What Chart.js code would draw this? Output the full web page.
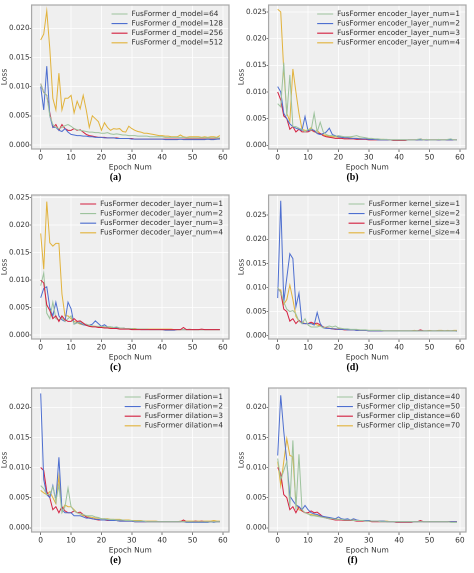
<!DOCTYPE html>
<html><head><meta charset="utf-8">
<script src="https://cdn.jsdelivr.net/npm/chart.js@4.4.0/dist/chart.umd.min.js"></script>
<style>
body{margin:0;background:#fff;width:474px;height:573px;position:relative;overflow:hidden}
.cell{position:absolute;width:237px;height:190px}
.cell canvas{position:absolute;left:0;top:0}
.cap{position:absolute;top:171px;width:237px;left:-3px;text-align:center;font:bold 10px "Liberation Serif",serif;color:#000}
</style></head><body>
<script>
// values in units of 0.001 (Loss ×1e3)
const xTicks=[0,10,20,30,40,50,60];
const colors={green:'#9dc39d',blue:'#4e6fd0',red:'#d42040',gold:'#e2b33c'};
const captions=['(a)','(b)','(c)','(d)','(e)','(f)'];
const yMax=[24,26.3,25.5,29.2,23.2,23.2];
const yTicks=[[0,5,10,15,20],[0,5,10,15,20,25],[0,5,10,15,20,25],[0,5,10,15,20,25],[0,5,10,15,20],[0,5,10,15,20]];

const aLabels=['FusFormer d_model=64','FusFormer d_model=128','FusFormer d_model=256','FusFormer d_model=512'];
const aGreen=[10.5,9,8.5,5,3.5,3,2.8,3,3.3,3.5,3.2,2.8,2.6,2.5,2.4,2.3,2.2,2.2,2.1,2.1,2.0,2.0,2.1,1.9,1.8,1.9,1.8,1.7,1.7,1.6,1.6,1.6,1.5,1.5,1.5,1.5,1.4,1.4,1.4,1.4,1.4,1.3,1.3,1.3,1.3,1.3,1.3,1.3,1.2,1.2,1.2,1.2,1.2,1.2,1.2,1.2,1.2,1.2,1.2,1.2];
const aBlue=[10,6,13.5,5,3,3,2.5,2.3,2.8,2.2,1.8,1.7,1.6,1.6,1.5,1.5,1.4,1.4,1.3,1.3,1.3,1.2,1.2,1.2,1.2,1.1,1.1,1.1,1.1,1.1,1.0,1.0,1.0,1.0,1.0,1.0,1.0,1.0,1.0,1.0,1.0,0.9,0.9,0.9,0.9,0.9,1.0,0.9,0.9,0.9,0.9,0.9,0.9,0.9,0.9,1.0,0.9,0.9,1.0,1.0];
const aRed=[10.5,9,8.5,5.5,3,3.5,2.5,3.5,2.8,2.5,2.5,2.8,2.5,2.6,2.2,1.8,1.6,1.5,1.4,1.3,1.3,1.3,1.2,1.2,1.2,1.2,1.1,1.1,1.1,1.1,1.1,1.0,1.0,1.0,1.0,1.0,1.0,1.0,1.0,1.0,1.0,1.0,1.0,1.0,1.0,1.0,1.0,1.0,1.0,1.0,1.0,1.0,1.0,1.0,1.0,1.0,1.0,1.0,1.0,1.1];
const aGold=[18,19,23,16.5,8,6,12.3,6,8,8,8.5,5.5,7.5,6.2,8.5,6,3,5,4.5,4,2.5,3.8,3,2.5,2.8,2.7,2.8,2.3,2.2,3.2,2.8,2.5,2.3,2.2,2.0,2.0,1.9,1.8,1.7,1.6,1.6,1.5,1.5,1.4,1.4,1.4,1.7,1.4,1.3,1.4,1.4,1.4,1.4,1.3,1.4,1.3,1.4,1.4,1.3,1.6];

const bLabels=['FusFormer encoder_layer_num=1','FusFormer encoder_layer_num=2','FusFormer encoder_layer_num=3','FusFormer encoder_layer_num=4'];
const bGreen=[7.8,7.2,15.5,5.5,13.2,3.5,3.5,3.2,3.0,2.5,3.0,2.8,6.0,2.5,4.3,2.5,2.0,1.8,1.8,1.7,1.8,1.7,1.6,1.6,1.6,1.7,1.8,1.6,1.5,1.4,1.3,1.3,1.2,1.2,1.1,1.1,1.1,1.0,1.0,1.0,1.0,1.0,1.0,1.0,1.0,1.0,1.1,1.2,1.0,1.1,1.0,1.0,1.0,1.1,1.0,1.0,1.1,1.2,1.0,1.0];
const bBlue=[11,10,6,5,4,3.5,3.2,3,2.8,5.4,2.7,3,2.8,2.2,2,2.2,2.5,3.2,2,1.8,1.6,1.5,1.4,1.4,1.3,1.3,1.3,1.2,1.2,1.2,1.1,1.1,1.1,1.0,1.0,1.0,1.0,1.0,1.0,1.0,1.0,1.0,1.0,1.0,1.0,1.0,1.0,1.0,1.0,1.0,1.0,1.0,1.0,1.0,1.0,1.0,1.0,1.0,1.0,1.0];
const bRed=[10,8.5,5.5,5,3,3.5,2.5,3,2.5,2.5,2.5,2.8,2.6,2.3,2.2,1.8,1.6,1.5,1.4,1.3,1.3,1.3,1.2,1.2,1.2,1.2,1.1,1.1,1.1,1.1,1.0,1.0,1.0,1.0,1.0,1.0,1.0,1.0,0.9,0.9,0.9,0.9,0.9,1.0,1.0,1.0,1.0,1.2,1.0,1.0,1.0,1.0,1.0,1.0,1.0,1.0,1.0,1.0,1.0,1.0];
const bGold=[25.5,25,14,6,4.5,14.3,10,6,3,2.8,2.8,3.3,2.5,2.8,2.2,2,1.8,1.7,1.6,1.6,1.5,1.5,1.4,1.4,1.4,1.3,1.3,1.3,1.2,1.2,1.2,1.1,1.1,1.1,1.1,1.1,1.0,1.0,1.0,1.0,1.0,1.0,1.0,1.0,1.0,1.0,1.0,1.0,1.0,1.0,1.0,1.0,1.0,1.0,1.0,1.0,1.0,1.0,1.0,1.0];

const cLabels=['FusFormer decoder_layer_num=1','FusFormer decoder_layer_num=2','FusFormer decoder_layer_num=3','FusFormer decoder_layer_num=4'];
const cRed=[10,9.5,5.5,4.5,3,3.5,2.5,3.5,2.8,2.5,2.5,3,2.5,2.6,2.2,1.8,1.6,1.5,1.5,1.4,1.4,1.3,1.3,1.2,1.2,1.2,1.1,1.1,1.1,1.1,1.0,1.0,1.0,1.0,1.0,1.0,1.0,1.0,1.0,1.0,1.0,1.0,1.0,1.0,1.0,1.0,1.0,1.4,1.0,1.0,1.0,1.0,1.0,1.1,1.0,1.0,1.0,1.0,1.0,1.0];
const cGreen=[9,11.3,4,3,6,3,2.8,3.2,2.5,3,3.5,2,2.2,2.5,2,2,1.8,1.7,1.6,1.6,1.6,1.5,1.5,1.5,1.4,1.5,1.3,1.3,1.2,1.2,1.2,1.1,1.1,1.1,1.1,1.1,1.0,1.0,1.0,1.0,1.0,1.0,1.0,1.0,1.0,1.0,1.0,1.0,1.0,1.1,1.0,1.0,1.0,1.0,1.0,1.0,1.0,1.0,1.0,1.0];
const cBlue=[6.8,8.5,8.8,5,3.5,6,3.5,2.8,2.5,6,4.8,2,2.3,2.2,1.9,1.8,1.8,2,2.6,2.1,1.6,1.9,1.5,1.5,1.4,1.4,1.3,1.3,1.2,1.2,1.1,1.1,1.1,1.0,1.0,1.0,1.0,1.0,1.0,1.0,1.0,0.9,0.9,0.9,0.9,1.0,1.0,1.0,1.0,1.0,1.0,1.0,1.0,1.0,1.0,1.0,1.0,1.0,1.0,1.0];
const cGold=[18.5,12,24.3,16.8,16.2,16.7,16.7,7.5,3.5,3.5,3,2.5,2.3,2,1.9,1.8,1.7,1.6,1.6,1.5,1.5,1.5,1.4,1.4,1.4,1.3,1.3,1.3,1.2,1.2,1.2,1.2,1.1,1.1,1.1,1.1,1.1,1.1,1.1,1.1,1.1,1.1,1.1,1.1,1.0,1.0,1.0,1.0,1.0,1.0,1.0,1.0,1.0,1.0,1.0,1.0,1.0,1.0,1.0,1.0];

const dLabels=['FusFormer kernel_size=1','FusFormer kernel_size=2','FusFormer kernel_size=3','FusFormer kernel_size=4'];
const dGreen=[10,9,7,5.5,5,5.2,4.5,3,2.5,3.5,2.2,1.8,1.8,1.8,2,1.6,1.8,2,1.8,2,1.6,1.5,1.4,1.4,1.3,1.3,1.3,1.2,1.2,1.2,1.1,1.1,1.1,1.1,1.1,1.0,1.0,1.0,1.0,1.0,1.0,1.0,1.0,1.0,1.0,1.0,1.0,1.0,1.0,1.0,1.0,1.0,1.0,1.0,1.0,1.0,1.0,1.0,1.0,1.0];
const dBlue=[7.8,28,7,12,17,16,6,8.8,2.5,2.5,2.5,2.5,2.2,4.8,2.5,1.6,1.5,1.5,1.4,1.4,1.3,1.3,1.3,1.2,1.2,1.2,1.1,1.1,1.1,1.1,1.0,1.0,1.0,1.0,1.0,1.0,1.0,1.0,1.0,1.0,1.0,1.0,1.0,1.0,1.0,1.0,1.0,1.0,1.0,1.0,1.0,1.0,1.0,1.0,1.0,1.0,1.0,1.0,1.0,0.9];
const dRed=[10,9,5.5,5,3,3.5,2.5,3.2,2.6,2.5,2.5,2.8,2.5,2.6,2.2,1.8,1.6,1.5,1.4,1.3,1.3,1.3,1.2,1.2,1.2,1.2,1.1,1.1,1.1,1.1,1.0,1.0,1.0,1.0,1.0,1.0,1.0,1.0,1.0,1.0,1.0,1.0,1.0,1.0,1.0,1.0,1.0,1.2,1.0,1.0,1.0,1.0,1.0,1.0,1.0,1.0,1.0,1.0,1.0,1.0];
const dGold=[9.5,9.5,6.5,7.5,10.5,7.5,4,3,2.8,2.5,2.5,2.5,2.5,2.2,2,1.8,1.6,1.5,1.5,1.4,1.4,1.3,1.3,1.3,1.2,1.2,1.2,1.2,1.1,1.1,1.1,1.1,1.1,1.1,1.1,1.0,1.0,1.0,1.0,1.0,1.0,1.0,1.0,1.0,1.0,1.1,1.0,1.1,1.0,1.0,1.1,1.0,1.0,1.1,1.1,1.0,1.1,1.0,1.1,1.1];

const eLabels=['FusFormer dilation=1','FusFormer dilation=2','FusFormer dilation=3','FusFormer dilation=4'];
const eGreen=[7,6.5,5.5,5.5,6.8,4.5,7,2.5,3.5,6.6,3.5,2.8,2.5,2.3,2.2,2,2,2,1.8,1.7,1.5,1.5,1.4,1.4,1.4,1.3,1.3,1.3,1.2,1.2,1.2,1.1,1.1,1.1,1.1,1.0,1.0,1.0,1.0,1.0,1.0,1.0,1.0,1.0,1.0,1.0,1.0,1.0,1.0,1.0,1.0,1.0,1.0,1.0,1.0,1.0,1.0,1.0,1.0,1.0];
const eBlue=[22.3,8,5.5,5,7,4.5,11.7,3,2.5,2.5,2.5,2,2,2,1.8,1.6,1.6,1.5,1.4,1.4,1.3,1.3,1.3,1.2,1.2,1.2,1.1,1.1,1.1,1.1,1.1,1.0,1.0,1.0,1.0,1.0,1.0,1.0,1.0,1.0,1.0,1.0,1.0,1.0,1.0,1.0,1.0,1.0,0.9,0.9,0.9,0.9,0.9,0.9,0.9,0.9,1.0,0.9,1.0,1.0];
const eRed=[10,9.5,6,5,3,3.5,2.5,3.5,2.8,2.5,2.5,2.8,2.5,2.6,2.2,1.8,1.6,1.5,1.4,1.3,1.3,1.3,1.2,1.2,1.2,1.2,1.1,1.1,1.1,1.1,1.1,1.0,1.0,1.0,1.0,1.0,1.0,1.0,1.0,1.0,1.0,1.0,1.0,1.0,1.0,1.0,1.0,1.3,1.0,1.0,1.0,1.1,1.0,1.1,1.0,1.0,1.0,1.0,1.0,1.0];
const eGold=[6.2,5.8,5.5,6,5,4,8.5,3,3.8,3.5,3.5,3,2.5,2.3,2,2,1.8,1.7,1.6,1.6,1.5,1.5,1.5,1.4,1.4,1.4,1.4,1.3,1.3,1.3,1.2,1.2,1.2,1.2,1.1,1.1,1.1,1.1,1.1,1.0,1.0,1.0,1.0,1.0,1.0,1.0,1.1,1.1,1.1,1.1,1.1,1.1,1.1,1.1,1.1,1.1,1.1,1.2,1.1,1.1];

const fLabels=['FusFormer clip_distance=40','FusFormer clip_distance=50','FusFormer clip_distance=60','FusFormer clip_distance=70'];
const fGreen=[11.5,8,9.5,11,3.5,14.5,3,12.2,3,2.5,2.3,2,2,1.9,1.8,1.7,1.6,1.5,1.5,1.4,1.4,1.4,1.3,1.3,1.3,1.2,1.2,1.2,1.2,1.1,1.1,1.1,1.1,1.1,1.0,1.0,1.0,1.0,1.0,1.0,1.0,1.0,1.0,1.0,1.0,1.0,1.0,1.0,1.0,1.0,1.0,1.0,1.0,1.0,1.0,1.0,1.0,0.9,0.9,0.9];
const fBlue=[12,22,16,11,5.3,4.5,3.8,3.5,3,3.7,3,2.5,2.3,2.2,2,1.9,1.8,1.7,1.6,1.5,1.8,1.5,1.4,1.5,1.3,1.5,1.3,1.2,1.2,1.2,1.2,1.1,1.1,1.1,1.1,1.1,1.0,1.0,1.0,1.0,1.0,1.0,1.0,1.0,1.0,1.0,1.0,1.0,1.0,1.0,1.0,1.0,1.0,1.0,1.0,1.0,1.0,1.0,1.0,1.0];
const fRed=[10,9,5.5,5,3,3.5,2.5,3.5,2.8,2.5,2.5,2.8,2.5,2.6,2.2,1.8,1.6,1.5,1.4,1.3,1.3,1.3,1.2,1.2,1.2,1.2,1.1,1.1,1.1,1.1,1.1,1.0,1.0,1.0,1.0,1.0,1.0,1.0,1.0,0.9,0.9,0.9,0.9,0.9,0.9,1.0,1.0,1.2,1.0,1.0,1.0,1.0,1.0,1.0,1.0,1.0,1.0,1.0,1.0,1.0];
const fGold=[11,7,11,14.8,12,11.8,4,3,2.8,2.5,2.3,2.2,2.1,2,1.9,1.8,1.7,1.6,1.5,1.5,1.4,1.4,1.4,1.3,1.3,1.3,1.2,1.2,1.2,1.2,1.2,1.1,1.1,1.1,1.1,1.1,1.1,1.0,1.0,1.0,1.0,1.0,1.0,1.0,1.0,1.0,1.0,1.0,1.0,1.0,1.0,1.0,1.0,1.0,1.0,1.0,1.0,1.0,1.0,1.0];

const panels=[
 {labels:aLabels,series:[aGreen,aBlue,aRed,aGold],cols:['green','blue','red','gold']},
 {labels:bLabels,series:[bGreen,bBlue,bRed,bGold],cols:['green','blue','red','gold']},
 {labels:cLabels,series:[cRed,cGreen,cBlue,cGold],cols:['red','green','blue','gold']},
 {labels:dLabels,series:[dGreen,dBlue,dRed,dGold],cols:['green','blue','red','gold']},
 {labels:eLabels,series:[eGreen,eBlue,eRed,eGold],cols:['green','blue','red','gold']},
 {labels:fLabels,series:[fGreen,fBlue,fRed,fGold],cols:['green','blue','red','gold']}
];
const FONT='"DejaVu Sans", sans-serif';
const bgPlugin={id:'bg',beforeDraw(c){const a=c.chartArea,x=c.ctx;x.save();x.fillStyle='#efefef';x.fillRect(a.left,a.top,a.right-a.left,a.bottom-a.top);x.restore();},
 afterDraw(c){const a=c.chartArea,x=c.ctx;x.save();x.strokeStyle='#a8a8a8';x.lineWidth=1.2;x.strokeRect(a.left,a.top,a.right-a.left,a.bottom-a.top);
  const ds=c.data.datasets;x.font='7.3px '+FONT;x.textBaseline='middle';
  let w=0;ds.forEach(d=>w=Math.max(w,x.measureText(d.label).width));
  const tx=a.right-6-w, lx=tx-20;
  ds.forEach((d,i)=>{const y=a.top+9+i*9.6;x.strokeStyle=d.borderColor;x.lineWidth=1.1;x.beginPath();x.moveTo(lx,y);x.lineTo(lx+16,y);x.stroke();x.fillStyle='#333';x.fillText(d.label,tx,y);});
  x.restore();}};
panels.forEach((p,i)=>{
 const cell=document.createElement('div');cell.className='cell';
 cell.style.left=(i%2?237:0)+'px';cell.style.top=[0,190,383][Math.floor(i/2)]+'px';
 const cv=document.createElement('canvas');cv.width=237;cv.height=172;cv.style.width='237px';cv.style.height='172px';
 cell.appendChild(cv);const cap=document.createElement('div');cap.className='cap';cap.textContent=captions[i];cell.appendChild(cap);
 document.body.appendChild(cell);
 const yt=yTicks[i];
 new Chart(cv,{type:'line',plugins:[bgPlugin],
  data:{datasets:p.series.map((s,k)=>({label:p.labels[k],data:s.map((v,j)=>({x:j,y:v/1000})),borderColor:colors[p.cols[k]],borderWidth:1,pointRadius:0,tension:0,fill:false}))},
  options:{responsive:false,animation:false,devicePixelRatio:2,
   layout:{padding:{top:5,right:8,left:0,bottom:0}},
   plugins:{legend:{display:false},tooltip:{enabled:false}},
   scales:{
    x:{type:'linear',min:-3,max:62,afterBuildTicks(s){s.ticks=xTicks.map(v=>({value:v}));},
     grid:{color:'#ffffff',lineWidth:0.8,tickColor:'#555',tickLength:3},border:{display:false},
     ticks:{font:{size:7.5,family:FONT},color:'#333',padding:1,maxRotation:0},
     title:{display:true,text:'Epoch Num',font:{size:7.5,family:FONT},color:'#333',padding:{top:0,bottom:0}}},
    y:{min:-0.0007,max:yMax[i]/1000,afterBuildTicks(s){s.ticks=yt.map(v=>({value:v/1000}));},
     grid:{color:'#ffffff',lineWidth:0.8,tickColor:'#555',tickLength:2},border:{display:false},
     ticks:{font:{size:7.2,family:FONT},color:'#333',padding:0,callback:v=>v.toFixed(3)},
     title:{display:true,text:'Loss',font:{size:7.5,family:FONT},color:'#333',padding:{top:0,bottom:0}}}
   }}});
});
</script>
</body></html>
